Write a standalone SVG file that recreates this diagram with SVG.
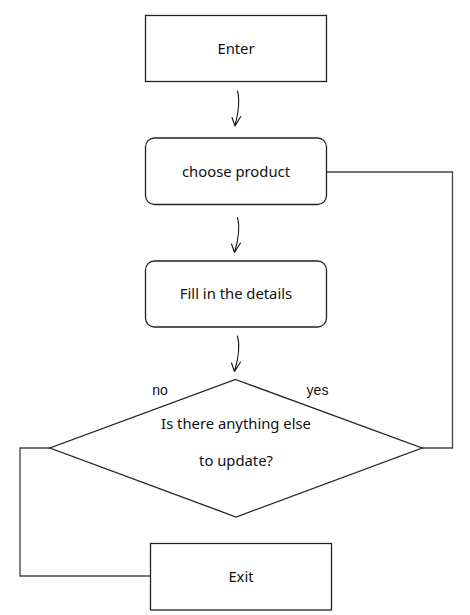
<svg xmlns="http://www.w3.org/2000/svg" width="470" height="615" viewBox="0 0 470 615">
<style>
.box{fill:#fff;stroke:#222;stroke-width:1.3}
.t{font-family:"Noto Sans","Open Sans",sans-serif;font-size:14.8px;fill:#111;text-anchor:middle}
.lbl{font-family:"Liberation Sans",Arial,sans-serif;font-size:14px;fill:#111;text-anchor:middle}
.conn{fill:none;stroke:#444;stroke-width:1.3}
.arr{fill:none;stroke:#111;stroke-width:1.1;stroke-linecap:round;stroke-linejoin:round}
</style>
<rect width="470" height="615" fill="#fff"/>
<g id="connectors">
<path class="conn" d="M326,172 H452.5 V448 H422"/>
<path class="conn" d="M50,448 H20 V576 H150"/>
<path class="arr" d="M237.5,91 C240,100 238.5,112 235,126 M232,117.5 L235,126 L240.8,116.5"/>
<path class="arr" d="M237.5,217.5 C240,226 238.5,239 234.5,252.5 M231.5,244 L234.5,252.5 L240.5,243"/>
<path class="arr" d="M237.5,336 C240,345 238.5,358 234.5,371.5 M231.5,363 L234.5,371.5 L240.5,362"/>
</g>
<g id="enter">
<rect class="box" x="145.5" y="15.5" width="181" height="66"/>
<text class="t" x="236" y="54">Enter</text>
</g>
<g id="choose">
<rect class="box" x="145.5" y="138" width="181" height="66.5" rx="9"/>
<text class="t" x="236" y="177">choose product</text>
</g>
<g id="fill">
<rect class="box" x="145.5" y="261" width="181" height="66" rx="9"/>
<text class="t" x="236" y="299">Fill in the details</text>
</g>
<g id="decision">
<polygon class="box" points="235.5,379.5 422,448 236,517 50,448"/>
<text class="t" x="236" y="429">Is there anything else</text>
<text class="t" x="236" y="466">to update?</text>
</g>
<g id="exit">
<rect class="box" x="150.5" y="543.5" width="181" height="66.5"/>
<text class="t" x="241" y="582">Exit</text>
</g>
<g id="labels">
<text class="lbl" x="160" y="395">no</text>
<text class="lbl" x="317.5" y="395">yes</text>
</g>
</svg>
